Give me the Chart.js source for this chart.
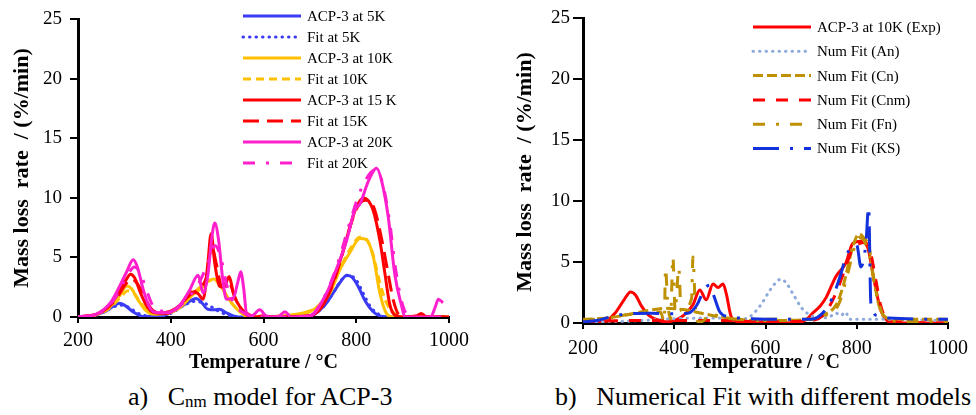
<!DOCTYPE html>
<html>
<head>
<meta charset="utf-8">
<script src="https://cdn.jsdelivr.net/npm/chart.js@4.4.0/dist/chart.umd.min.js"></script>
<style>
  body { margin:0; background:#fff; width:976px; height:415px; position:relative; overflow:hidden;
         font-family:"Liberation Serif","Times New Roman",serif; }
  #wrapA { position:absolute; left:0; top:0; width:480px; height:375px; }
  #wrapB { position:absolute; left:500px; top:0; width:476px; height:375px; }
  .cap { position:absolute; top:382px; font-size:26px; line-height:30px; white-space:pre; color:#000; }
  .cap sub { font-size:17px; vertical-align:baseline; position:relative; top:2px; }
</style>
</head>
<body>
<div id="wrapA"><canvas id="chartA"></canvas></div>
<div id="wrapB"><canvas id="chartB"></canvas></div>
<div class="cap" style="left:128px">a)   C<sub>nm</sub> model for ACP-3</div>
<div class="cap" style="left:555px">b)   Numerical Fit with different models</div>

<script>
// axes
var xTicks = [200, 400, 600, 800, 1000];
var yTicks = [0, 5, 10, 15, 20, 25];
var xTitle = 'Temperature / °C';
var yTitle = 'Mass loss  rate  / (%/min)';

// ---- panel a) : Cnm model for ACP-3 ----
var tAcp5 = [200,230,260,280,290,300,320,340,380,420,440,455,465,480,495,505,520,545,700,730,750,765,780,792,805,820,835,850,870,1000];
var vAcp5 = [0,0.1,0.5,1.0,1.15,1.0,0.4,0.05,0.1,0.8,1.3,1.55,1.3,0.65,0.6,0.65,0.35,0,0.1,0.9,2.0,2.9,3.5,3.3,2.5,1.3,0.5,0.1,0,0];

var tFit5 = [200,240,270,290,310,330,360,400,430,450,470,490,510,530,560,700,730,750,770,785,800,815,830,850,870,1000];
var vFit5 = [0,0.15,0.7,1.0,0.8,0.3,0.05,0.3,1.0,1.3,1.2,0.8,0.35,0.1,0,0.1,0.9,2.0,3.2,3.5,3.1,2.0,0.9,0.2,0,0];

var tAcp10 = [200,240,270,290,305,315,330,345,360,390,420,445,465,480,492,505,520,535,550,565,600,640,680,720,743,765,786,808,822,837,851,865,880,1000];
var vAcp10 = [0,0.2,0.9,1.8,2.6,2.4,1.4,0.6,0.25,0.3,0.8,1.8,2.4,3.0,3.2,2.8,1.8,1.0,0.4,0.05,0,0.1,0.3,0.9,2.0,4.0,5.4,6.6,6.5,5.0,2.0,0.3,0,0];

var tFit10 = [200,240,270,290,308,320,335,350,370,400,430,455,475,492,510,525,545,565,600,680,720,745,768,790,808,820,835,850,865,885,900,1000];
var vFit10 = [0,0.2,0.8,1.6,2.2,2.0,1.2,0.5,0.25,0.4,1.2,2.2,2.9,3.1,2.5,1.5,0.6,0.1,0,0.2,1.0,2.5,4.3,5.9,6.7,6.6,5.4,3.0,1.2,0.2,0,0];

var tAcp15 = [200,240,270,290,305,313,322,335,350,365,390,420,445,458,470,480,487,495,505,515,526,535,550,565,580,600,620,700,725,743,765,786,800,816,836,851,862,872,882,900,930,940,950,1000];
var vAcp15 = [0,0.25,1.1,2.2,3.2,3.6,3.3,2.0,0.8,0.35,0.3,1.0,2.1,2.0,1.5,4.5,7.0,4.5,2.6,2.5,3.4,2.0,0.8,0.3,0,0.1,0,0.1,0.8,2.2,4.7,7.5,9.2,10.0,9.0,6.4,3.6,1.1,0.2,0,0.1,0.3,0.05,0];

var tFit15 = [200,250,280,300,315,328,345,360,380,410,440,460,478,488,498,510,524,540,560,580,700,725,745,768,790,805,820,838,855,868,880,892,910,1000];
var vFit15 = [0,0.4,1.4,2.6,3.2,2.8,1.5,0.6,0.35,0.7,1.8,2.4,3.5,6.0,4.5,2.6,3.0,1.5,0.3,0,0.1,0.9,2.3,5.0,8.0,9.4,9.8,9.2,6.5,3.8,1.4,0.2,0,0];

var tAcp20 = [200,240,270,290,305,319,328,340,352,365,390,420,440,459,470,480,488,495,503,512,520,535,545,551,557,564,575,592,605,620,635,646,660,700,736,757,779,797,808,826,844,855,869,883,898,905,960,970,977,987];
var vAcp20 = [0,0.25,1.2,2.6,3.8,4.8,4.2,2.4,1.0,0.4,0.35,1.0,2.2,3.5,2.0,3.5,6.5,7.9,6.5,3.2,1.5,1.6,3.0,3.8,2.5,0.2,0.1,0.6,0.1,0,0.1,0.45,0,0.1,2.0,4.0,6.4,9.0,9.5,11.4,12.5,11.4,8.4,3.6,0.9,0,0,0.8,1.5,1.2];

var tFit20 = [200,250,280,305,322,335,350,362,375,400,430,460,480,495,508,520,535,555,580,620,700,730,760,785,805,820,838,855,872,885,898,910,930,1000];
var vFit20 = [0,0.4,1.6,3.4,4.2,3.6,2.0,0.9,0.5,0.5,1.3,2.8,4.5,6.0,5.0,2.8,1.2,0.4,0.1,0,0.1,1.6,4.5,7.8,10.2,11.5,12.3,11.5,8.0,4.0,1.3,0.2,0,0];

// ---- panel b) : numerical fit with different models ----
var tExp = [200,230,252,270,290,304,315,328,345,361,380,400,420,441,456,470,485,496,507,514,525,540,570,590,620,667,690,703,720,733,754,776,791,809,824,838,853,867,880,1000];
var vExp = [0,0.05,0.2,0.8,1.9,2.55,2.3,1.4,0.6,0.3,0.1,0.2,0.6,1.5,2.7,1.9,3.2,2.9,3.2,2.4,0.5,0.1,0.05,0.1,0.05,0,0.3,0.8,1.4,2.1,3.8,4.9,6.5,6.7,6.2,3.5,1.0,0.2,0,0];

var tAn = [200,250,300,350,400,450,500,540,565,590,610,625,634,645,660,680,700,720,740,755,765,775,785,800,850,1000];
var vAn = [0.05,0.1,0.15,0.25,0.35,0.4,0.4,0.3,0.5,1.5,2.7,3.4,3.6,3.3,2.4,1.2,0.6,0.4,0.5,0.8,0.6,0.9,0.3,0.3,0.3,0.2];

var tCn = [200,250,300,340,380,420,460,500,540,600,700,730,755,770,791,805,815,827,838,849,862,880,1000];
var vCn = [0.3,0.4,0.7,1.0,1.2,1.1,0.8,0.5,0.3,0.2,0.3,0.7,1.5,3.0,6.2,7.3,7.0,6.2,3.5,1.4,0.5,0.3,0.3];

var tCnm = [200,300,400,500,600,700,730,755,775,790,805,818,830,842,852,862,880,1000];
var vCnm = [0.1,0.2,0.2,0.2,0.1,0.2,0.8,2.5,4.5,6.0,6.5,6.6,5.8,3.5,1.5,0.5,0.1,0];

var tFn = [200,250,300,350,370,378,381,385,392,397,402,410,415,438,441,446,452,460,480,500,560,700,730,760,780,795,805,815,828,840,852,865,1000];
var vFn = [0.2,0.4,0.7,0.9,0.9,0.1,4.5,2.0,0.3,5.4,1.0,4.5,1.0,2.0,5.4,1.5,0.1,0.1,0.8,0.5,0.3,0.3,0.6,1.5,4.0,6.2,7.0,6.8,5.5,3.0,1.2,0.2,0.1];

var tKs = [200,230,260,300,350,400,430,450,465,477,487,500,520,545,600,700,730,747,765,776,790,800,809,820,826,831,845,870,1000];
var vKs = [0.1,0.2,0.5,0.75,0.8,0.75,0.8,1.5,2.7,3.1,2.2,0.9,0.5,0.4,0.3,0.3,1.0,2.1,4.0,5.4,6.3,6.4,4.6,6.5,9.5,1.6,0.6,0.4,0.3];

var FONT = '"Liberation Serif", "Times New Roman", serif';

function pts(t, v) {
    return t.map(function(x, i) { return {x: x, y: v[i]}; });
}

function series(label, t, v, color, dash, width, cap) {
    return {
        label: label,
        data: pts(t, v),
        borderColor: color,
        backgroundColor: color,
        borderWidth: width || 3,
        borderDash: dash || [],
        borderCapStyle: cap || 'butt',
        pointRadius: 0,
        fill: false,
        tension: 0.3,
        cubicInterpolationMode: 'monotone'
    };
}

// legend drawn with the real dash patterns of each dataset
function lineLegend(x1, x2, tx, y0, dy) {
    return {
        id: 'lineLegend',
        afterDraw: function(chart) {
            var ctx = chart.ctx;
            ctx.save();
            chart.data.datasets.forEach(function(ds, i) {
                var y = y0 + dy * i;
                ctx.beginPath();
                ctx.setLineDash(ds.borderDash);
                ctx.lineCap = ds.borderCapStyle;
                ctx.lineWidth = ds.borderWidth;
                ctx.strokeStyle = ds.borderColor;
                ctx.moveTo(x1, y);
                ctx.lineTo(x2, y);
                ctx.stroke();
                ctx.setLineDash([]);
                ctx.fillStyle = '#000';
                ctx.font = '15px ' + FONT;
                ctx.textAlign = 'left';
                ctx.textBaseline = 'middle';
                ctx.fillText(ds.label, tx, y + 1);
            });
            ctx.restore();
        }
    };
}

function yTitlePlugin(x, y) {
    return {
        id: 'yTitle',
        afterDraw: function(chart) {
            var ctx = chart.ctx;
            ctx.save();
            ctx.translate(x, y);
            ctx.rotate(-Math.PI / 2);
            ctx.font = 'bold 22px ' + FONT;
            ctx.fillStyle = '#000';
            ctx.textAlign = 'center';
            ctx.textBaseline = 'middle';
            ctx.fillText(yTitle, 0, 0);
            ctx.restore();
        }
    };
}

function makeOptions(yWidth, xHeight, padRight, xTickPad, yTickPad, yTickLen) {
    return {
        responsive: true,
        maintainAspectRatio: false,
        animation: false,
        layout: { padding: { left: 0, top: 18, right: padRight, bottom: 0 } },
        plugins: { legend: { display: false }, tooltip: { enabled: false } },
        scales: {
            x: {
                type: 'linear', min: xTicks[0], max: xTicks[xTicks.length - 1],
                afterBuildTicks: function(s) { s.ticks = xTicks.map(function(v) { return {value: v}; }); },
                ticks: { color: '#000', font: { family: FONT, size: 20 }, padding: xTickPad, maxRotation: 0, autoSkip: false,
                         callback: function(v) { return String(v); } },
                grid: { drawOnChartArea: false, drawTicks: true, tickLength: 6, color: '#000', lineWidth: 2 },
                border: { color: '#000', width: 3 },
                title: { display: true, text: xTitle, color: '#000', font: { family: FONT, size: 20, weight: 'bold' }, padding: 0 },
                afterFit: function(s) { s.height = xHeight; }
            },
            y: {
                min: yTicks[0], max: yTicks[yTicks.length - 1],
                afterBuildTicks: function(s) { s.ticks = yTicks.map(function(v) { return {value: v}; }); },
                ticks: { color: '#000', font: { family: FONT, size: 19 }, padding: yTickPad,
                         callback: function(v) { return String(v); } },
                grid: { drawOnChartArea: false, drawTicks: true, tickLength: yTickLen, color: '#000', lineWidth: 2 },
                border: { color: '#000', width: 3 },
                afterFit: function(s) { s.width = yWidth; }
            }
        }
    };
}

function setOrder(list) {
    list.forEach(function(d, i) { d.order = list.length - i; });
    return list;
}

var blue = '#3b3bf5', orange = '#ffc000', red = '#ff0000', magenta = '#ff1fcc';
var lightBlue = '#8eaadb', gold = '#bf9000', ksBlue = '#1432dc';

var dsA = setOrder([
    series('ACP-3 at 5K', tAcp5, vAcp5, blue),
    series('Fit at 5K', tFit5, vFit5, blue, [0.5, 6], 3, 'round'),
    series('ACP-3 at 10K', tAcp10, vAcp10, orange),
    series('Fit at 10K', tFit10, vFit10, orange, [8, 5]),
    series('ACP-3 at 15 K', tAcp15, vAcp15, red),
    series('Fit at 15K', tFit15, vFit15, red, [16, 8]),
    series('ACP-3 at 20K', tAcp20, vAcp20, magenta),
    series('Fit at 20K', tFit20, vFit20, magenta, [12, 11, 3, 11])
]);

var dsB = setOrder([
    series('ACP-3 at 10K (Exp)', tExp, vExp, red),
    series('Num Fit (An)', tAn, vAn, lightBlue, [0.5, 6], 3, 'round'),
    series('Num Fit (Cn)', tCn, vCn, gold, [10, 4]),
    series('Num Fit (Cnm)', tCnm, vCnm, red, [12, 11]),
    series('Num Fit (Fn)', tFn, vFn, gold, [12, 11, 3, 11]),
    series('Num Fit (KS)', tKs, vKs, ksBlue, [26, 11, 3, 11])
]);

new Chart(document.getElementById('chartA'), {
    type: 'line',
    data: { datasets: dsA },
    options: makeOptions(78, 58, 31, 6, 8, 8),
    plugins: [lineLegend(243, 301, 307, 16, 21), yTitlePlugin(22, 168)]
});

new Chart(document.getElementById('chartB'), {
    type: 'line',
    data: { datasets: dsB },
    options: makeOptions(83, 52, 27, 8, 3, 10),
    plugins: [lineLegend(253, 311, 317, 27, 24.3), yTitlePlugin(25, 172)]
});
</script>
</body>
</html>
